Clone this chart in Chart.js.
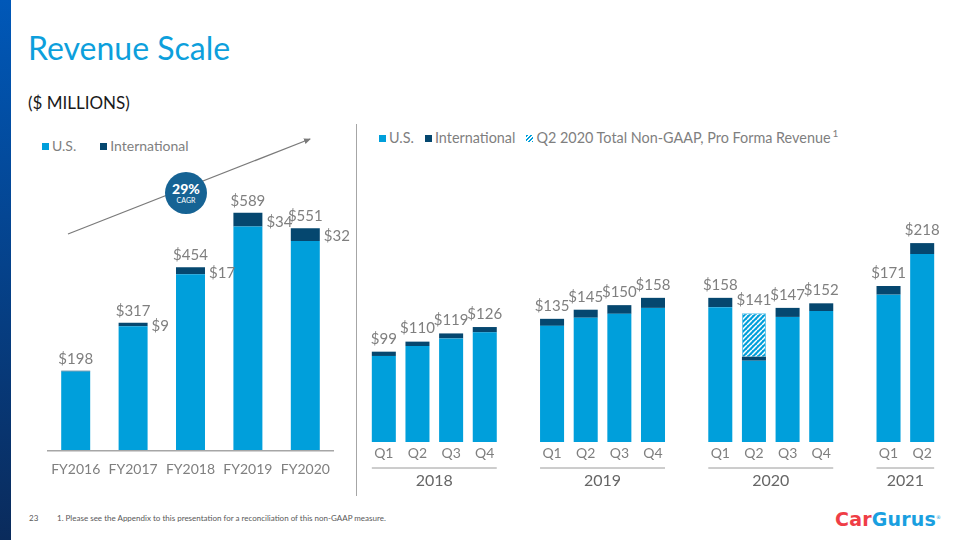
<!DOCTYPE html>
<html>
<head>
<meta charset="utf-8">
<script src="https://cdn.jsdelivr.net/npm/chart.js@4/dist/chart.umd.min.js"></script>
<style>
  html, body { margin:0; padding:0; background:#fff; }
  body { width:960px; height:540px; position:relative; overflow:hidden; font-family: Lato, "Open Sans", sans-serif; }
  .stripe { position:absolute; left:0; top:0; width:11px; height:540px; background:linear-gradient(#0058b8, #0a2b5c); }
  .title { position:absolute; left:28px; top:28px; font-size:32px; color:#0d9fdc; line-height:40px; }
  .sub { position:absolute; left:28px; top:92px; font-size:17px; color:#1a1a1a; line-height:22px; }
  .legend { position:absolute; color:#7f7f7f; line-height:18px; white-space:nowrap; }
  .legend .sw { display:inline-block; width:7px; height:7px; margin-right:3px; vertical-align:1px; }
  .divider { position:absolute; left:356px; top:124px; width:1px; height:372px; background:#a6a6a6; }
  canvas { position:absolute; }
  .foot { position:absolute; top:513px; font-size:8px; color:#595959; }
  .logo { position:absolute; left:835px; top:505px; font-size:19px; font-weight:bold; letter-spacing:0.2px; font-family: "DejaVu Sans", sans-serif; line-height:24px; }
</style>
</head>
<body>
<div class="stripe"></div>
<div class="title">Revenue Scale</div>
<div class="sub">($ MILLIONS)</div>

<div class="legend" style="left:42px; top:137px; font-size:14px;">
  <span><span class="sw" style="background:#009fdb"></span>U.S.</span><span style="margin-left:24px"><span class="sw" style="background:#05476f"></span>International</span>
</div>
<div class="legend" style="left:379px; top:124px; font-size:14.4px;">
  <span style="margin-right:11px"><span class="sw" style="background:#009fdb"></span>U.S.</span><span style="margin-right:11px"><span class="sw" style="background:#05476f"></span>International</span><span><span class="sw" style="background:repeating-linear-gradient(135deg,#009fdb 0 1.5px,#fff 1.5px 3px)"></span>Q2 2020 Total Non-GAAP, Pro Forma Revenue</span><sup style="font-size:10px; vertical-align:6px; margin-left:2px;">1</sup>
</div>

<div class="divider"></div>

<svg style="position:absolute;left:0;top:0" width="960" height="540">
  <defs>
    <marker id="ah" markerWidth="8" markerHeight="8" refX="6" refY="3" orient="auto" markerUnits="userSpaceOnUse">
      <path d="M0,0 L7,3 L0,6 Z" fill="#7a7a7a"/>
    </marker>
  </defs>
  <line x1="68" y1="234" x2="310" y2="139" stroke="#7a7a7a" stroke-width="1.2" marker-end="url(#ah)"/>
  <circle cx="186" cy="193" r="21" fill="#166394"/>
  <text x="186" y="194" text-anchor="middle" font-family="Lato" font-weight="900" font-size="14" fill="#fff">29%</text>
  <text x="186" y="203" text-anchor="middle" font-family="Lato" font-size="7" fill="#fff">CAGR</text>
</svg>

<canvas id="left" width="310" height="350" style="left:47px; top:130px;"></canvas>
<canvas id="right" width="572" height="360" style="left:367px; top:140px;"></canvas>

<div class="foot" style="left:29px;">23</div>
<div class="foot" style="left:57px;">1. Please see the Appendix to this presentation for a reconciliation of this non-GAAP measure.</div>
<div class="logo"><span style="color:#ef3e46">Car</span><span style="color:#1a9fe0">Gurus</span><sup style="font-size:5px;color:#1a9fe0;font-weight:400">®</sup></div>

<script>
// ---------- Annual data ----------
const fyLabels = ['FY2016', 'FY2017', 'FY2018', 'FY2019', 'FY2020'];
const fyUS     = [196, 308, 437, 555, 519];
const fyIntl   = [2, 9, 17, 34, 32];
const fyTotal  = [198, 317, 454, 589, 551];
const fyIntlLabelShown = [false, true, true, true, true];

// ---------- Quarterly data ('' = gap between years) ----------
const qLabels   = ['Q1','Q2','Q3','Q4','', 'Q1','Q2','Q3','Q4','', 'Q1','Q2','Q3','Q4','', 'Q1','Q2'];
const qUS       = [94.3, 105.2, 113.5, 120.2, null, 127.3, 136.2, 140.5, 147, null, 147.8, 89.1, 137.1, 143.6, null, 161.5, 206];
const qIntl     = [4.7, 4.8, 5.5, 5.8, null, 7.7, 8.8, 9.5, 11, null, 10.2, 4.4, 9.9, 8.4, null, 9.5, 12];
const qProForma = [null, null, null, null, null, null, null, null, null, null, null, 47.5, null, null, null, null, null];
const qTotal    = [99, 110, 119, 126, null, 135, 145, 150, 158, null, 158, 141, 147, 152, null, 171, 218];
const yearNames = ['2018', '2019', '2020', '2021'];
const yearFirst = [0, 5, 10, 15];
const yearLast  = [3, 8, 13, 16];

const US_COLOR = '#009fdb';
const INTL_COLOR = '#05476f';
const LABEL_GRAY = '#7f7f7f';
const FONT = 'Lato, "Open Sans", sans-serif';

function hatch() {
  const c = document.createElement('canvas');
  c.width = 5; c.height = 5;
  const g = c.getContext('2d');
  g.fillStyle = US_COLOR; g.fillRect(0, 0, 5, 5);
  g.strokeStyle = '#ffffff'; g.lineWidth = 1.5;
  for (let k = -5; k <= 10; k += 5) {
    g.beginPath(); g.moveTo(k, 5); g.lineTo(k + 5, 0); g.stroke();
  }
  return g.createPattern(c, 'repeat');
}

const leftLabels = {
  id: 'leftLabels',
  afterDatasetsDraw(chart) {
    const ctx = chart.ctx;
    const ys = chart.scales.y;
    const intlMeta = chart.getDatasetMeta(1);
    ctx.save();
    ctx.font = '15px ' + FONT;
    ctx.fillStyle = LABEL_GRAY;
    ctx.textBaseline = 'middle';
    fyTotal.forEach((t, i) => {
      const bar = intlMeta.data[i];
      const top = ys.getPixelForValue(t);
      ctx.textAlign = 'center';
      ctx.fillText('$' + t, bar.x, top - 12);
      if (fyIntlLabelShown[i]) {
        ctx.textAlign = 'left';
        const base = ys.getPixelForValue(fyUS[i]);
        ctx.fillText('$' + fyIntl[i], bar.x + bar.width / 2 + 4, (top + base) / 2 + 2);
      }
    });
    const a = chart.chartArea;
    ctx.strokeStyle = '#a6a6a6'; ctx.lineWidth = 1.5;
    ctx.beginPath(); ctx.moveTo(a.left, a.bottom); ctx.lineTo(a.right, a.bottom); ctx.stroke();
    ctx.restore();
  }
};

const rightLabels = {
  id: 'rightLabels',
  afterDatasetsDraw(chart) {
    const ctx = chart.ctx;
    const ys = chart.scales.y, xs = chart.scales.x;
    ctx.save();
    ctx.font = '15px ' + FONT;
    ctx.fillStyle = LABEL_GRAY;
    ctx.textAlign = 'center';
    ctx.textBaseline = 'middle';
    qTotal.forEach((t, i) => {
      if (t == null) return;
      ctx.fillText('$' + t, xs.getPixelForValue(i), ys.getPixelForValue(t) - 13);
    });
    const bottom = chart.chartArea.bottom;
    ctx.font = '16px ' + FONT;
    ctx.fillStyle = '#666666';
    ctx.strokeStyle = '#9a9a9a'; ctx.lineWidth = 1;
    yearNames.forEach((y, k) => {
      const x1 = xs.getPixelForValue(yearFirst[k]);
      const x2 = xs.getPixelForValue(yearLast[k]);
      ctx.beginPath();
      ctx.moveTo(x1 - 12, bottom + 26); ctx.lineTo(x2 + 12, bottom + 26);
      ctx.stroke();
      ctx.fillText(y, (x1 + x2) / 2, bottom + 39);
    });
    ctx.restore();
  }
};

const commonX = (tickLen, height) => ({
  stacked: true,
  grid: { display: false, drawTicks: true, tickLength: tickLen },
  border: { display: false },
  ticks: { color: LABEL_GRAY, font: { family: FONT, size: 14 }, padding: 0, maxRotation: 0, autoSkip: false },
  afterFit(scale) { scale.height = height; }
});

new Chart(document.getElementById('left'), {
  type: 'bar',
  data: {
    labels: fyLabels,
    datasets: [
      { label: 'U.S.', data: fyUS, backgroundColor: US_COLOR },
      { label: 'International', data: fyIntl, backgroundColor: INTL_COLOR }
    ]
  },
  options: {
    responsive: false, animation: false, devicePixelRatio: 1,
    layout: { padding: { left: 0, right: 23, top: 0, bottom: 0 } },
    datasets: { bar: { categoryPercentage: 1, barPercentage: 0.505 } },
    plugins: { legend: { display: false }, tooltip: { enabled: false } },
    scales: {
      x: commonX(10, 29.3),
      y: { stacked: true, display: false, min: 0, max: 794 }
    }
  },
  plugins: [leftLabels]
});

new Chart(document.getElementById('right'), {
  type: 'bar',
  data: {
    labels: qLabels,
    datasets: [
      { label: 'U.S.', data: qUS, backgroundColor: US_COLOR },
      { label: 'International', data: qIntl, backgroundColor: INTL_COLOR },
      { label: 'Q2 2020 Total Non-GAAP, Pro Forma Revenue', data: qProForma, backgroundColor: hatch(), borderColor: '#5cc3ea', borderWidth: 1 }
    ]
  },
  options: {
    responsive: false, animation: false, devicePixelRatio: 1,
    layout: { padding: 0 },
    datasets: { bar: { categoryPercentage: 1, barPercentage: 0.714 } },
    plugins: { legend: { display: false }, tooltip: { enabled: false } },
    scales: {
      x: commonX(3, 58),
      y: { stacked: true, display: false, min: 0, max: 331 }
    }
  },
  plugins: [rightLabels]
});
</script>
</body>
</html>
